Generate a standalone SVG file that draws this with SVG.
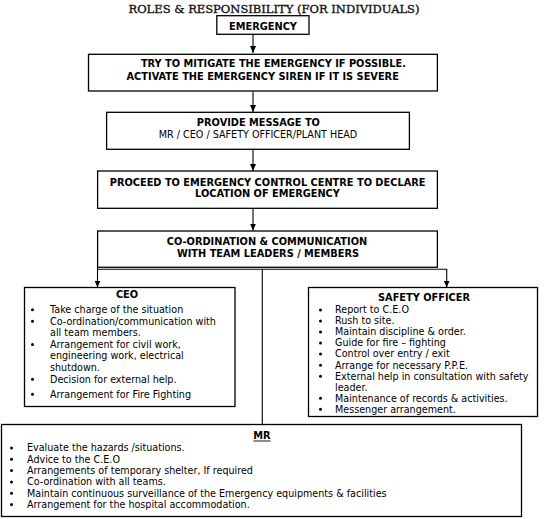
<svg xmlns="http://www.w3.org/2000/svg" width="547" height="519" viewBox="0 0 547 519">
<style>
.box{fill:#fff;stroke:#000;stroke-width:1.3}
.t{font-family:"DejaVu Sans",Verdana,sans-serif;font-size:9.6px;fill:#000}
.b{font-family:"DejaVu Sans",Verdana,sans-serif;font-size:9.8px;font-weight:bold;fill:#000}
.c{text-anchor:middle}
.title{font-family:"DejaVu Serif","Liberation Serif",serif;font-size:11.4px;fill:#111;stroke:#111;stroke-width:0.35}
.ln{fill:none;stroke:#000;stroke-width:1.1}
.bu{fill:#000}
</style>
<defs>
<marker id="ah" markerUnits="userSpaceOnUse" markerWidth="8" markerHeight="8" viewBox="0 0 8 8" refX="7" refY="4" orient="auto">
<path d="M0,1 L7,4 L0,7 z" fill="#000"/>
</marker>
</defs>
<rect width="547" height="519" fill="#fff"/>
<text class="title" x="128.5" y="13" textLength="291" lengthAdjust="spacingAndGlyphs">ROLES &amp; RESPONSIBILITY (FOR INDIVIDUALS)</text>

<g id="connectors">
<line class="ln" x1="253" y1="34.5" x2="253" y2="53" marker-end="url(#ah)"/>
<line class="ln" x1="253" y1="91.5" x2="253" y2="112" marker-end="url(#ah)"/>
<line class="ln" x1="253" y1="150" x2="253" y2="171" marker-end="url(#ah)"/>
<line class="ln" x1="253" y1="209" x2="253" y2="230.5" marker-end="url(#ah)"/>
<polyline class="ln" points="97.5,269.3 446.7,269.3 446.7,287.5" marker-end="url(#ah)"/>
<line class="ln" x1="97.5" y1="267.3" x2="97.5" y2="287.5" marker-end="url(#ah)"/>
<line class="ln" x1="262.3" y1="269.3" x2="262.3" y2="424.5"/>
</g>

<g id="emergency">
<rect class="box" x="216.8" y="15.7" width="92.2" height="18.6"/>
<text class="b c" x="263" y="29.5">EMERGENCY</text>
</g>

<g id="mitigate">
<rect class="box" x="88.5" y="54.3" width="348.9" height="36.7"/>
<text class="b c" x="273.4" y="66.5">TRY TO MITIGATE THE EMERGENCY IF POSSIBLE.</text>
<text class="b c" x="262.7" y="79.8">ACTIVATE THE EMERGENCY SIREN IF IT IS SEVERE</text>
</g>

<g id="message">
<rect class="box" x="106.6" y="112.3" width="302.8" height="37"/>
<text class="b c" x="258.4" y="126">PROVIDE MESSAGE TO</text>
<text class="t c" x="258" y="137.7">MR / CEO / SAFETY OFFICER/PLANT HEAD</text>
</g>

<g id="proceed">
<rect class="box" x="97.6" y="171" width="339.8" height="37.3"/>
<text class="b c" x="267.6" y="185.7">PROCEED TO EMERGENCY CONTROL CENTRE TO DECLARE</text>
<text class="b c" x="267.5" y="196.9">LOCATION OF EMERGENCY</text>
</g>

<g id="coordination">
<rect class="box" x="97.6" y="231" width="339.8" height="36.3"/>
<text class="b c" x="267" y="245.3">CO-ORDINATION &amp; COMMUNICATION</text>
<text class="b c" x="268" y="256.8">WITH TEAM LEADERS / MEMBERS</text>
</g>

<g id="ceo">
<rect class="box" x="24.5" y="287.5" width="210.5" height="119"/>
<text class="b c" x="127" y="298">CEO</text>
<circle class="bu" cx="32.5" cy="309.7" r="1.5"/>
<text class="t" x="50" y="313">Take charge of the situation</text>
<circle class="bu" cx="32.5" cy="321.3" r="1.5"/>
<text class="t" x="50" y="324.6">Co-ordination/communication with</text>
<text class="t" x="50" y="336.2">all team members.</text>
<circle class="bu" cx="32.5" cy="344.5" r="1.5"/>
<text class="t" x="50" y="347.8">Arrangement for civil work,</text>
<text class="t" x="50" y="359.4">engineering work, electrical</text>
<text class="t" x="50" y="371">shutdown.</text>
<circle class="bu" cx="32.5" cy="379.3" r="1.5"/>
<text class="t" x="50" y="382.6">Decision for external help.</text>
<circle class="bu" cx="32.5" cy="394.2" r="1.5"/>
<text class="t" x="50" y="397.5">Arrangement for Fire Fighting</text>
</g>

<g id="safety-officer">
<rect class="box" x="308.5" y="287.5" width="229" height="129"/>
<text class="b c" x="424" y="301.2">SAFETY OFFICER</text>
<circle class="bu" cx="320.5" cy="310" r="1.5"/>
<text class="t" x="335" y="313.3">Report to C.E.O</text>
<circle class="bu" cx="320.5" cy="321" r="1.5"/>
<text class="t" x="335" y="324.3">Rush to site.</text>
<circle class="bu" cx="320.5" cy="332.1" r="1.5"/>
<text class="t" x="335" y="335.4">Maintain discipline &amp; order.</text>
<circle class="bu" cx="320.5" cy="343.1" r="1.5"/>
<text class="t" x="335" y="346.4">Guide for fire – fighting</text>
<circle class="bu" cx="320.5" cy="354.1" r="1.5"/>
<text class="t" x="335" y="357.4">Control over entry / exit</text>
<circle class="bu" cx="320.5" cy="365.2" r="1.5"/>
<text class="t" x="335" y="368.5">Arrange for necessary P.P.E.</text>
<circle class="bu" cx="320.5" cy="376.2" r="1.5"/>
<text class="t" x="335" y="379.5">External help in consultation with safety</text>
<text class="t" x="335" y="390.5">leader.</text>
<circle class="bu" cx="320.5" cy="398.2" r="1.5"/>
<text class="t" x="335" y="401.5">Maintenance of records &amp; activities.</text>
<circle class="bu" cx="320.5" cy="409.3" r="1.5"/>
<text class="t" x="335" y="412.6">Messenger arrangement.</text>
</g>

<g id="mr">
<rect class="box" x="1.5" y="424.5" width="520" height="92"/>
<text class="b c" x="262" y="439">MR</text>
<line x1="253.5" y1="441" x2="270.5" y2="441" stroke="#000" stroke-width="0.9"/>
<circle class="bu" cx="11.5" cy="448" r="1.5"/>
<text class="t" x="27" y="451.3">Evaluate the hazards /situations.</text>
<circle class="bu" cx="11.5" cy="459.3" r="1.5"/>
<text class="t" x="27" y="462.6">Advice to the C.E.O</text>
<circle class="bu" cx="11.5" cy="470.6" r="1.5"/>
<text class="t" x="27" y="473.9">Arrangements of temporary shelter, If required</text>
<circle class="bu" cx="11.5" cy="481.9" r="1.5"/>
<text class="t" x="27" y="485.2">Co-ordination with all teams.</text>
<circle class="bu" cx="11.5" cy="493.2" r="1.5"/>
<text class="t" x="27" y="496.5">Maintain continuous surveillance of the Emergency equipments &amp; facilities</text>
<circle class="bu" cx="11.5" cy="504.5" r="1.5"/>
<text class="t" x="27" y="507.8">Arrangement for the hospital accommodation.</text>
</g>
</svg>
